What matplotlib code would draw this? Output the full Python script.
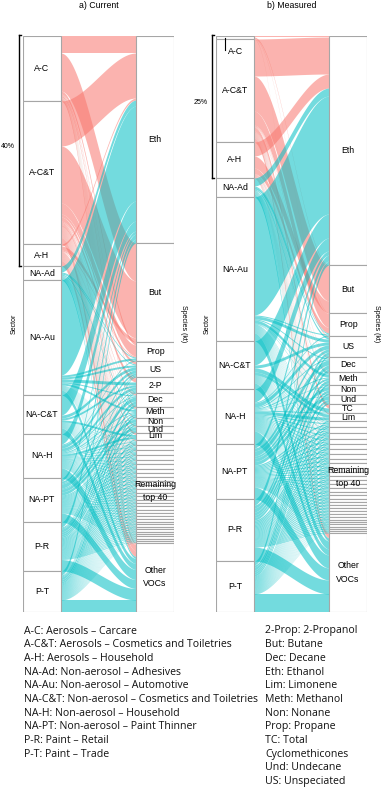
import numpy as np
import matplotlib.pyplot as plt
from matplotlib.patches import Rectangle

sectors = ['A-C', 'A-C&T', 'A-H', 'NA-Ad', 'NA-Au', 'NA-C&T', 'NA-H', 'NA-PT', 'P-R', 'P-T']

# a) Current inventory, sector x species (kt, read off the chart)
species_a = ['Eth', 'But', 'Prop', 'US', '2-P', 'Dec', 'Meth', 'Non', 'Und', 'Lim',
             'Remaining\ntop 40', 'Other\nVOCs']
flows_a = np.array([
    [17, 38, 3, 0, 1, 0.5, 1.5, 0, 0, 0, 2, 2],
    [45, 57, 11, 3, 4, 1, 0.5, 1, 1, 2, 11, 6.5],
    [2, 4, 1, 0, 0, 0.5, 0, 0, 0, 0, 9, 5.5],
    [6, 0, 1, 1, 0, 0, 1, 0, 0, 0, 3, 2],
    [95, 0, 2, 2, 3, 1, 2, 0, 0, 0, 5, 5],
    [20, 0, 0, 3, 2, 0, 0, 0, 0, 2, 6, 6],
    [10, 0, 1, 3, 3, 1, 1, 0.5, 0.5, 2, 12, 10],
    [3, 0, 0, 2, 1, 4, 1, 3, 3, 0, 18, 9],
    [5, 0, 0, 1, 1, 3, 2, 2, 1.5, 0, 22, 11.5],
    [4, 0, 0, 1, 1, 2.5, 2, 1.5, 1, 1, 15, 12],
])
rem_a = [5.2, 4.9, 4.6, 4.5, 4.3, 4.2, 4.0, 3.9, 3.8, 3.7, 3.6, 3.5, 3.4, 3.3, 3.2,
         3.1, 3.0, 3.0, 2.9, 2.8, 2.7, 2.6, 2.5, 2.4, 2.3, 2.2, 2.1, 2.0, 1.9, 1.8]

# b) Measured
species_b = ['Eth', 'But', 'Prop', 'US', 'Dec', 'Meth', 'Non', 'Und', 'TC', 'Lim',
             'Remaining\ntop 40', 'Other\nVOCs']
flows_b = np.array([
    [1, 1, 0.5, 0, 0, 0, 0, 0, 0, 0, 0, 0.5],
    [37, 35, 14, 1, 0.5, 0.5, 0, 0, 4, 1, 6, 4],
    [14, 12, 5.5, 0, 0.5, 0.5, 0.5, 0.5, 0, 0, 2, 0.5],
    [8, 0, 1, 2, 0, 1, 0, 0, 0, 0, 4, 3],
    [118, 0, 1, 3, 1, 3, 0.5, 0.5, 0, 0, 9, 8],
    [24, 0, 0, 3, 0, 0, 0, 0, 4, 3, 8, 6],
    [13, 0, 1, 4, 1, 1, 0.5, 0.5, 1, 3, 17, 13],
    [4, 0, 0, 3, 5, 2, 3.5, 3.5, 0, 0, 22, 12],
    [6, 0, 0, 3, 4, 3, 2.5, 2.5, 0, 0, 27, 14],
    [4, 0, 0, 2, 3, 2, 2, 2, 0, 1, 17, 18],
])
rem_b = [5.5, 5.1, 4.8, 4.6, 4.4, 4.2, 4.1, 4.0, 3.8, 3.7, 3.6, 3.5, 3.4, 3.3, 3.2,
         3.1, 3.0, 2.9, 2.8, 2.7, 2.6, 2.5, 2.4, 2.3, 2.2, 2.1, 2.0, 1.9, 1.8, 1.7]

sector_notes = ['A-C: Aerosols \u2013 Carcare',
                'A-C&T: Aerosols \u2013 Cosmetics and Toiletries',
                'A-H: Aerosols \u2013 Household',
                'NA-Ad: Non-aerosol \u2013 Adhesives',
                'NA-Au: Non-aerosol \u2013 Automotive',
                'NA-C&T: Non-aerosol \u2013 Cosmetics and Toiletries',
                'NA-H: Non-aerosol \u2013 Household',
                'NA-PT: Non-aerosol \u2013 Paint Thinner',
                'P-R: Paint \u2013 Retail',
                'P-T: Paint \u2013 Trade']
species_notes = ['2-Prop: 2-Propanol', 'But: Butane', 'Dec: Decane', 'Eth: Ethanol',
                 'Lim: Limonene', 'Meth: Methanol', 'Non: Nonane', 'Prop: Propane',
                 'TC: Total', 'Cyclomethicones', 'Und: Undecane', 'US: Unspeciated']

PINK = '#F8766D'
TEAL = '#00BFC4'
EDGE = '#a6a6a6'
LAB = 'Liberation Sans'
W = 1 / 3


def curve(x0, x1, y0, y1, n=60):
    xs = np.linspace(x0, x1, n)
    t = (xs - x0) / (x1 - x0)
    s = t * t * (3 - 2 * t)
    return xs, y0 + (y1 - y0) * s


def draw_panel(ax, title, species, flows, rem):
    # split the "remaining" column into its individual strata
    ri = species.index('Remaining\ntop 40')
    rem = np.array(rem) / np.sum(rem)
    cols, names = [], []
    for j, sp in enumerate(species):
        if j == ri:
            for r in rem:
                cols.append(flows[:, j] * r)
                names.append('')
        else:
            cols.append(flows[:, j])
            names.append(sp)
    F = np.column_stack(cols)
    total = F.sum()

    row_tot = F.sum(axis=1)
    col_tot = F.sum(axis=0)
    row_top = np.concatenate([[0], np.cumsum(row_tot)[:-1]])
    col_top = np.concatenate([[0], np.cumsum(col_tot)[:-1]])

    left_pos = row_top[:, None] + np.cumsum(F, axis=1) - F
    right_pos = col_top[None, :] + np.cumsum(F, axis=0) - F

    xl, xr = 1 + W / 2, 2 - W / 2
    for i in range(F.shape[0]):
        c = PINK if sectors[i].startswith('A-') else TEAL
        for j in range(F.shape[1]):
            v = F[i, j]
            if v <= 0:
                continue
            xs, top = curve(xl, xr, left_pos[i, j], right_pos[i, j])
            _, bot = curve(xl, xr, left_pos[i, j] + v, right_pos[i, j] + v)
            ax.fill_between(xs, top, bot, color=c, alpha=0.55, lw=0)

    # strata
    for i, s in enumerate(sectors):
        ax.add_patch(Rectangle((1 - W / 2, row_top[i]), W, row_tot[i],
                               fc='white', ec=EDGE, lw=0.8))
        mid = row_top[i] + row_tot[i] / 2
        if row_tot[i] < 5:
            ly = row_top[i] + 15
            ax.plot([1 - 0.09, 1 - 0.09], [row_top[i] + 1.5, ly - 1], color='black', lw=0.8)
            ax.text(1.005, ly, s, ha='center', va='center', fontsize=6.3, family=LAB)
        else:
            ax.text(1, mid, s, ha='center', va='center', fontsize=6.3, family=LAB)
    for j, s in enumerate(names):
        ax.add_patch(Rectangle((2 - W / 2, col_top[j]), W, col_tot[j],
                               fc='white', ec=EDGE, lw=0.8))
        if s:
            ax.text(2, col_top[j] + col_tot[j] / 2, s, ha='center', va='center',
                    fontsize=6.3, family=LAB, linespacing=1.6)
    r0 = col_top[ri]
    r1 = col_top[ri + len(rem) - 1] + col_tot[ri + len(rem) - 1]
    ax.text(2, (r0 + r1) / 2, species[ri], ha='center', va='center',
            fontsize=6.3, family=LAB, linespacing=1.6)

    # aerosol bracket
    aer = row_tot[[k for k, s in enumerate(sectors) if s.startswith('A-')]].sum()
    xb = 1 - W / 2 - 0.035
    ax.plot([xb, xb], [-1, aer], color='black', lw=1, clip_on=False)
    ax.plot([xb, xb + 0.02], [-1, -1], color='black', lw=1, clip_on=False)
    ax.plot([xb, xb + 0.02], [aer, aer], color='black', lw=1, clip_on=False)
    ax.text(xb - 0.1, aer / 2 - 5, f'{aer / total * 100:.0f}%', ha='center', va='center',
            fontsize=5, family=LAB)

    ax.text(1 - W / 2 - 0.08, total / 2, 'Sector', rotation=90, ha='center', va='center',
            fontsize=5, family=LAB)
    ax.text(2 + W / 2 + 0.08, total / 2, 'Species (kt)', rotation=270, ha='center',
            va='center', fontsize=5, family=LAB)
    ax.text(1.5, -31, title, ha='center', va='center', fontsize=6.3, family=LAB)

    ax.set_xlim(1 - W / 2, 2 + W / 2)
    ax.set_ylim(total, 0)
    ax.axis('off')


fig = plt.figure(figsize=(3.87, 8.11), dpi=100)
ax_a = fig.add_axes([23 / 387, 199 / 811, 151 / 387, 576 / 811])
ax_b = fig.add_axes([216 / 387, 199 / 811, 151 / 387, 576 / 811])
for ax in (ax_a, ax_b):
    ax.patch.set_alpha(0)

draw_panel(ax_a, 'a) Current', species_a, flows_a, rem_a)
draw_panel(ax_b, 'b) Measured', species_b, flows_b, rem_b)

for k, t in enumerate(sector_notes):
    fig.text(24 / 387, 1 - (631 + 13.7 * k) / 811, t, ha='left', va='center',
             fontsize=7.6, family='Open Sans', color='#111111')
for k, t in enumerate(species_notes):
    fig.text(265 / 387, 1 - (631 + 13.7 * k) / 811, t, ha='left', va='center',
             fontsize=7.6, family='Open Sans', color='#111111')

fig.savefig('out.png', dpi=100)
